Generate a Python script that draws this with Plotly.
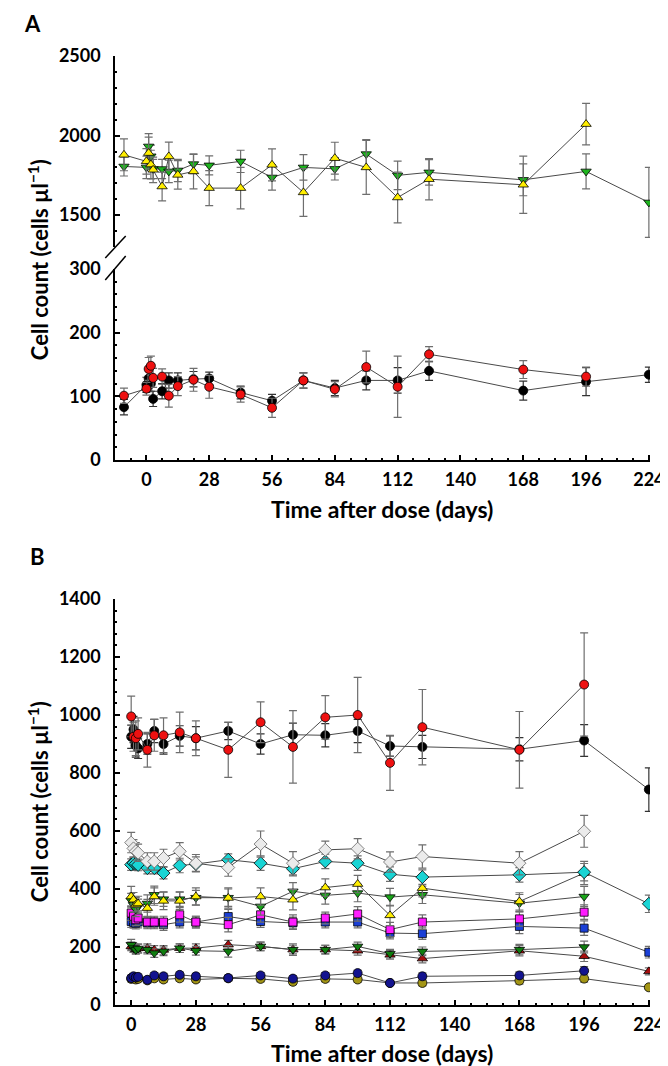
import plotly.graph_objects as go

# ---------------- Panel A data ----------------
days_a = [-10, 0, 1, 2, 3, 7, 10, 14, 21, 28, 42, 56, 70, 84, 98, 112, 126, 168, 196, 224]

a_yellow = [1879, 1838, 1890, 1818, 1785, 1680, 1869, 1753, 1775, 1670, 1670, 1816, 1643, 1858, 1800, 1611, 1726, 1691, 2072]
a_yellow_sd = [100, 80, 100, 90, 80, 90, 90, 90, 110, 110, 130, 100, 150, 100, 170, 160, 130, 180, 130]
a_green = [1806, 1800, 1932, 1870, 1790, 1790, 1775, 1781, 1821, 1813, 1838, 1737, 1800, 1791, 1884, 1750, 1769, 1722, 1775, 1580]
a_green_sd = [60, 70, 80, 70, 60, 60, 70, 70, 60, 60, 70, 80, 80, 70, 90, 90, 80, 100, 110, 220]

a_red = [101, 112, 143, 148, 129, 131, 101, 116, 126, 115, 103, 82, 125, 111, 146, 115, 166, 142, 131]
a_red_sd = [12, 10, 18, 15, 15, 12, 18, 15, 18, 18, 12, 15, 12, 12, 25, 48, 12, 14, 15]
a_black = [83, 118, 128, 120, 96, 108, 125, 125, 127, 128, 106, 93, 125, 113, 125, 125, 140, 109, 123, 134]
a_black_sd = [12, 12, 15, 12, 12, 12, 12, 12, 12, 10, 10, 10, 12, 12, 15, 20, 15, 15, 22, 12]

# ---------------- Panel B data ----------------
days_b = [0, 1, 2, 3, 7, 10, 14, 21, 28, 42, 56, 70, 84, 98, 112, 126, 168, 196, 224]

b_red = [995, 925, 920, 935, 880, 930, 930, 940, 920, 880, 975, 890, 992, 1000, 835, 958, 880, 1105]
b_red_sd = [70, 50, 60, 55, 60, 55, 60, 70, 60, 95, 70, 125, 75, 130, 95, 130, 132, 178]
b_black = [925, 950, 895, 885, 900, 945, 900, 928, 920, 945, 900, 932, 930, 945, 893, 890, 882, 912, 743]
b_black_sd = [40, 45, 40, 35, 35, 40, 35, 35, 40, 30, 35, 40, 40, 40, 35, 40, 40, 55, 75]
b_white = [560, 540, 530, 525, 495, 495, 507, 530, 489, 474, 555, 489, 535, 539, 493, 512, 489, 599]
b_white_sd = [35, 30, 30, 30, 30, 30, 30, 30, 30, 30, 45, 40, 30, 35, 35, 40, 40, 55]
b_cyan = [484, 490, 487, 483, 472, 472, 455, 481, 486, 501, 489, 470, 495, 489, 451, 441, 449, 458, 349]
b_cyan_sd = [20, 20, 20, 20, 20, 20, 20, 25, 25, 20, 25, 25, 25, 25, 25, 25, 25, 30, 30]
b_yellow = [374, 363, 346, 350, 334, 374, 359, 359, 374, 369, 374, 363, 405, 417, 309, 403, 357, 455]
b_yellow_sd = [35, 25, 25, 25, 30, 30, 30, 30, 30, 35, 30, 35, 30, 30, 35, 30, 30, 40]
b_green_hi = [360, 345, 330, 340, 350, 380, 365, 365, 370, 370, 340, 392, 378, 386, 372, 380, 351, 374]
b_green_hi_sd = [25, 25, 25, 25, 30, 30, 25, 25, 25, 30, 30, 30, 30, 30, 30, 30, 30, 35]
b_magenta = [317, 306, 294, 300, 286, 286, 286, 311, 286, 277, 311, 286, 300, 314, 260, 286, 297, 320]
b_magenta_sd = [25, 20, 20, 20, 20, 20, 20, 25, 20, 25, 25, 25, 20, 25, 25, 25, 25, 25]
b_blue_sq = [288, 285, 282, 286, 283, 283, 277, 286, 286, 305, 288, 283, 286, 286, 248, 246, 271, 265, 182]
b_blue_sq_sd = [20, 20, 20, 20, 20, 20, 20, 20, 20, 25, 20, 20, 20, 20, 20, 20, 25, 25, 20]
b_green_lo = [208, 196, 190, 195, 191, 179, 185, 196, 187, 185, 202, 191, 191, 202, 177, 185, 191, 200]
b_green_lo_sd = [18, 15, 15, 15, 15, 15, 15, 15, 15, 20, 15, 20, 15, 15, 15, 15, 18, 20]
b_darkred = [202, 198, 192, 195, 196, 190, 190, 196, 196, 208, 202, 191, 191, 187, 173, 160, 187, 168, 116]
b_darkred_sd = [15, 15, 15, 15, 15, 15, 15, 15, 15, 15, 15, 15, 15, 15, 15, 15, 18, 18, 12]
b_navy = [93, 99, 95, 97, 87, 102, 99, 104, 99, 93, 102, 91, 102, 110, 76, 99, 102, 118]
b_navy_sd = [10, 10, 10, 10, 10, 10, 10, 10, 10, 10, 10, 10, 10, 10, 8, 12, 12, 14]
b_olive = [90, 92, 88, 90, 85, 92, 88, 92, 88, 92, 90, 80, 90, 88, 76, 76, 84, 91, 61]
b_olive_sd = [10, 10, 10, 10, 10, 10, 10, 10, 10, 10, 10, 10, 10, 10, 8, 10, 12, 12, 8]

x_ticks = [0, 28, 56, 84, 112, 140, 168, 196, 224]

LINE = "#4a4a4a"
ERR = "#6e6e6e"
FONT = "Lato"


def series(x, y, sd, color, symbol, xa, ya, size=9, edge="#000000", errc=ERR):
    n = len(y)
    return go.Scatter(
        x=x[:n], y=y, mode="lines+markers",
        line=dict(color=LINE, width=1),
        marker=dict(symbol=symbol, size=size, color=color,
                    line=dict(color=edge, width=0.8)),
        error_y=dict(type="data", array=sd, color=errc, thickness=1.2, width=4),
        xaxis=xa, yaxis=ya, showlegend=False, hoverinfo="skip",
    )


fig = go.Figure()

# Panel A upper (x2/y2)
fig.add_trace(series(days_a, a_green, a_green_sd, "#1db31d", "triangle-down", "x2", "y2"))
fig.add_trace(series(days_a, a_yellow, a_yellow_sd, "#ffee00", "triangle-up", "x2", "y2"))
# Panel A lower (x/y)
fig.add_trace(series(days_a, a_black, a_black_sd, "#000000", "circle", "x", "y", errc="#333333"))
fig.add_trace(series(days_a, a_red, a_red_sd, "#ee1111", "circle", "x", "y"))

# Panel B (x3/y3)
fig.add_trace(series(days_b, b_olive, b_olive_sd, "#a39515", "circle", "x3", "y3"))
fig.add_trace(series(days_b, b_navy, b_navy_sd, "#13138f", "circle", "x3", "y3"))
fig.add_trace(series(days_b, b_darkred, b_darkred_sd, "#a50d0d", "triangle-up", "x3", "y3"))
fig.add_trace(series(days_b, b_green_lo, b_green_lo_sd, "#0f7d0f", "triangle-down", "x3", "y3"))
fig.add_trace(series(days_b, b_blue_sq, b_blue_sq_sd, "#1a3fd6", "square", "x3", "y3", size=8))
fig.add_trace(series(days_b, b_magenta, b_magenta_sd, "#ff1cff", "square", "x3", "y3", size=8))
fig.add_trace(series(days_b, b_green_hi, b_green_hi_sd, "#1aa51a", "triangle-down", "x3", "y3"))
fig.add_trace(series(days_b, b_yellow, b_yellow_sd, "#ffee00", "triangle-up", "x3", "y3"))
fig.add_trace(series(days_b, b_cyan, b_cyan_sd, "#19d4d4", "diamond", "x3", "y3", size=10))
fig.add_trace(series(days_b, b_white, b_white_sd, "#ebebeb", "diamond", "x3", "y3", size=10, edge="#666666"))
fig.add_trace(series(days_b, b_black, b_black_sd, "#000000", "circle", "x3", "y3", errc="#333333"))
fig.add_trace(series(days_b, b_red, b_red_sd, "#ee1111", "circle", "x3", "y3"))

tickfont = dict(family=FONT, size=18, color="#000000", weight="bold")
axis_common = dict(showline=True, linecolor="#000000", linewidth=1.5, ticks="inside",
                   ticklen=5, tickwidth=1.5, tickcolor="#000000", showgrid=False,
                   zeroline=False, tickfont=tickfont)
minor_common = dict(ticklen=2.5, tickwidth=1.5, tickcolor="#000000", ticks="inside")

W_PX = 550.0
H_PX = 949.0


def py(p):
    return 1 - (p - 48) / H_PX


def px(p):
    return (p - 107) / W_PX


fig.update_layout(
    width=668, height=1066,
    margin=dict(l=107, r=11, t=48, b=69),
    paper_bgcolor="white", plot_bgcolor="white",
    xaxis=dict(domain=[0, 1], anchor="y", range=[-14, 224.5], tickvals=x_ticks,
               ticklabeloverflow="allow", ticklabelstandoff=3,
               minor=dict(dtick=7, tick0=0, **minor_common), **axis_common),
    yaxis=dict(domain=[py(452), py(261)], anchor="x", range=[0, 300], tickvals=[0, 100, 200, 300],
               minor=dict(dtick=20, **minor_common), ticklabelstandoff=9, **axis_common),
    xaxis2=dict(domain=[0, 1], anchor="y2", range=[-14, 224.5], visible=False),
    yaxis2=dict(domain=[py(239), 1], anchor="x2", range=[1300, 2500], tickvals=[1500, 2000, 2500],
                minor=dict(dtick=100, **minor_common), ticklabelstandoff=9, **axis_common),
    xaxis3=dict(domain=[0, 1], anchor="y3", range=[-7, 224.5], tickvals=x_ticks,
                ticklabeloverflow="allow", ticklabelstandoff=3,
                minor=dict(dtick=7, tick0=0, **minor_common), **axis_common),
    yaxis3=dict(domain=[0, py(591)], anchor="x3", range=[0, 1400], tickvals=list(range(0, 1401, 200)),
                minor=dict(dtick=40, **minor_common), ticklabelstandoff=9, **axis_common),
)

ytitle_font = dict(family=FONT, size=22, color="#000000", weight="bold")
xtitle_font = dict(family=FONT, size=23, color="#000000", weight="bold")
letter_font = dict(family=FONT, size=22, color="#000000", weight="bold")


def label(text, x, y, font, angle=0):
    return dict(text=text, x=px(x), y=py(y), xref="paper", yref="paper", showarrow=False,
                xanchor="center", yanchor="middle", textangle=angle, font=font)


ann = [
    label("A", 22, 16, letter_font),
    label("B", 27, 548, letter_font),
    label("Cell count (cells µl<sup>−1</sup>)", 28, 252, ytitle_font, -90),
    label("Cell count (cells µl<sup>−1</sup>)", 28, 794, ytitle_font, -90),
    label("Time after dose (days)", 381, 501, xtitle_font),
    label("Time after dose (days)", 381, 1045, xtitle_font),
]
fig.update_layout(annotations=ann)

# axis break marks
shapes = [
    dict(type="line", xref="paper", yref="paper", x0=px(97), y0=py(250), x1=px(118), y1=py(228),
         line=dict(color="#000000", width=1.5)),
    dict(type="line", xref="paper", yref="paper", x0=px(97), y0=py(272), x1=px(118), y1=py(248),
         line=dict(color="#000000", width=1.5)),
]
fig.update_layout(shapes=shapes)

fig.write_html("out.html")
